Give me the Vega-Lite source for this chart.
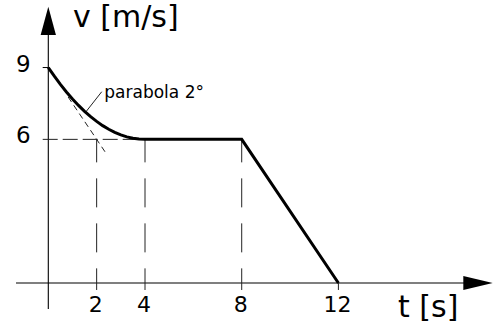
{
  "$schema": "https://vega.github.io/schema/vega-lite/v6.json",
  "width": 499,
  "height": 329,
  "autosize": {"type": "none"},
  "padding": 0,
  "background": "white",
  "config": {"view": {"stroke": null}, "text": {"font": "DejaVu Sans", "color": "black"}},
  "datasets": {
    "axisLines": [
      {"t": -1.336, "v": 0, "t2": 17.5, "v2": 0},
      {"t": 0, "v": -1.086, "t2": 0, "v2": 10.6}
    ],
    "xArrow": [{"t": 17.775, "v": 0}],
    "yArrow": [{"t": 0, "v": 10.948}],
    "yTicks": [{"t": -0.232, "t2": 0, "v": 9}],
    "xTicks": [
      {"t": 2, "v": 0, "v2": -0.292},
      {"t": 4, "v": 0, "v2": -0.292},
      {"t": 8, "v": 0, "v2": -0.292},
      {"t": 12, "v": 0, "v2": -0.292}
    ],
    "guideV": [
      {"t": 2, "v": 6, "v2": 0},
      {"t": 4, "v": 6, "v2": 0},
      {"t": 8, "v": 6, "v2": 0}
    ],
    "guideH": [{"t": -0.232, "t2": 4, "v": 6}],
    "tangent": [
      {"t": 0.82, "v": 7.77},
      {"t": 2.35, "v": 5.475}
    ],
    "leader": [
      {"t": 1.56, "v": 7.155},
      {"t": 2.21, "v": 7.99}
    ],
    "velocity": [
      {"t": 0, "v": 9},
      {"t": 0.25, "v": 8.637},
      {"t": 0.5, "v": 8.297},
      {"t": 0.75, "v": 7.98},
      {"t": 1, "v": 7.688},
      {"t": 1.25, "v": 7.418},
      {"t": 1.5, "v": 7.172},
      {"t": 1.75, "v": 6.949},
      {"t": 2, "v": 6.75},
      {"t": 2.25, "v": 6.574},
      {"t": 2.5, "v": 6.422},
      {"t": 2.75, "v": 6.293},
      {"t": 3, "v": 6.188},
      {"t": 3.25, "v": 6.105},
      {"t": 3.5, "v": 6.047},
      {"t": 3.75, "v": 6.012},
      {"t": 4, "v": 6},
      {"t": 8, "v": 6},
      {"t": 12, "v": 0}
    ],
    "xLabels": [
      {"t": 2, "v": 0, "label": "2"},
      {"t": 4, "v": 0, "label": "4"},
      {"t": 8, "v": 0, "label": "8"},
      {"t": 12, "v": 0, "label": "12"}
    ],
    "yLabels": [
      {"t": 0, "v": 9, "label": "9"},
      {"t": 0, "v": 6, "label": "6"}
    ],
    "titles": [
      {"t": 1.022, "v": 10.69, "label": "v [m/s]"},
      {"t": 14.465, "v": -1.42, "label": "t [s]"}
    ],
    "note": [{"t": 2.317, "v": 7.715, "label": "parabola 2°"}]
  },
  "encoding": {
    "x": {"field": "t", "type": "quantitative", "scale": {"domain": [-1.998, 18.643], "nice": false, "zero": false}, "axis": null},
    "y": {"field": "v", "type": "quantitative", "scale": {"domain": [-1.921, 11.821], "nice": false, "zero": false}, "axis": null}
  },
  "layer": [
    {
      "data": {"name": "axisLines"},
      "mark": {"type": "rule", "color": "black", "strokeWidth": 1.1},
      "encoding": {"x2": {"field": "t2"}, "y2": {"field": "v2"}}
    },
    {
      "data": {"name": "xArrow"},
      "mark": {"type": "point", "shape": "M -1 -0.48 L 1 0 L -1 0.48 Z", "size": 864, "filled": true, "color": "black", "opacity": 1}
    },
    {
      "data": {"name": "yArrow"},
      "mark": {"type": "point", "shape": "M -0.54 1 L 0 -1 L 0.54 1 Z", "size": 801, "filled": true, "color": "black", "opacity": 1}
    },
    {
      "data": {"name": "yTicks"},
      "mark": {"type": "rule", "color": "black", "strokeWidth": 1},
      "encoding": {"x2": {"field": "t2"}}
    },
    {
      "data": {"name": "xTicks"},
      "mark": {"type": "rule", "color": "#222", "strokeWidth": 1},
      "encoding": {"y2": {"field": "v2"}}
    },
    {
      "data": {"name": "guideV"},
      "mark": {"type": "rule", "color": "#222", "strokeWidth": 1, "strokeDash": [29, 16], "strokeDashOffset": 6},
      "encoding": {"y2": {"field": "v2"}}
    },
    {
      "data": {"name": "guideH"},
      "mark": {"type": "rule", "color": "#222", "strokeWidth": 1, "strokeDash": [15, 5]},
      "encoding": {"x2": {"field": "t2"}}
    },
    {
      "data": {"name": "tangent"},
      "mark": {"type": "line", "color": "#222", "strokeWidth": 1, "strokeDash": [6, 4]}
    },
    {
      "data": {"name": "leader"},
      "mark": {"type": "line", "color": "#222", "strokeWidth": 1}
    },
    {
      "data": {"name": "velocity"},
      "mark": {"type": "line", "color": "black", "strokeWidth": 3, "strokeJoin": "miter", "strokeCap": "butt"}
    },
    {
      "data": {"name": "xLabels"},
      "mark": {"type": "text", "fontSize": 22, "align": "center", "baseline": "middle", "dx": -1, "dy": 22},
      "encoding": {"text": {"field": "label", "type": "nominal"}}
    },
    {
      "data": {"name": "yLabels"},
      "mark": {"type": "text", "fontSize": 23, "align": "center", "baseline": "middle", "dx": -25, "dy": -3},
      "encoding": {"text": {"field": "label", "type": "nominal"}}
    },
    {
      "data": {"name": "titles"},
      "mark": {"type": "text", "fontSize": 30, "align": "left", "baseline": "alphabetic"},
      "encoding": {"text": {"field": "label"}}
    },
    {
      "data": {"name": "note"},
      "mark": {"type": "text", "fontSize": 17, "align": "left", "baseline": "alphabetic"},
      "encoding": {"text": {"field": "label"}}
    }
  ]
}
